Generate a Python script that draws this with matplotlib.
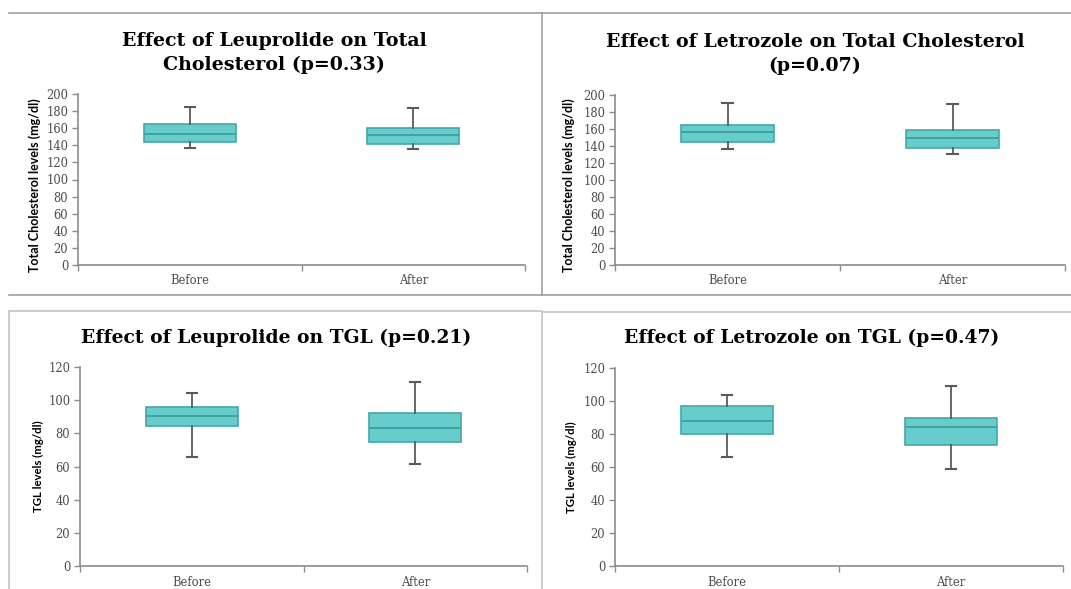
import matplotlib
matplotlib.use("Agg")
import matplotlib.pyplot as plt
from matplotlib.lines import Line2D

# ---- data ----
categories = ["Before", "After"]

titles = [
    "Effect of Leuprolide on Total\nCholesterol (p=0.33)",
    "Effect of Letrozole on Total Cholesterol\n(p=0.07)",
    "Effect of Leuprolide on TGL (p=0.21)",
    "Effect of Letrozole on TGL (p=0.47)",
]
ylabels = [
    "Total Cholesterol levels (mg/dl)",
    "Total Cholesterol levels (mg/dl)",
    "TGL levels (mg/dl)",
    "TGL levels (mg/dl)",
]

# [Before, After] for each statistic
leu_tc_min = [137, 136]
leu_tc_q1 = [144, 142]
leu_tc_med = [153, 152]
leu_tc_q3 = [165, 160]
leu_tc_max = [185, 184]

let_tc_min = [137, 131]
let_tc_q1 = [144.5, 138]
let_tc_med = [156, 150]
let_tc_q3 = [165, 159]
let_tc_max = [190.5, 190]

leu_tgl_min = [66, 61.5]
leu_tgl_q1 = [84.5, 74.5]
leu_tgl_med = [90.5, 83.5]
leu_tgl_q3 = [96, 92]
leu_tgl_max = [104.5, 111]

let_tgl_min = [66, 59]
let_tgl_q1 = [80, 73.5]
let_tgl_med = [88, 84.5]
let_tgl_q3 = [97, 89.5]
let_tgl_max = [103.5, 109]

tc_ticks = list(range(0, 201, 20))
tgl_ticks = list(range(0, 121, 20))

panels = [
    (leu_tc_min, leu_tc_q1, leu_tc_med, leu_tc_q3, leu_tc_max, tc_ticks),
    (let_tc_min, let_tc_q1, let_tc_med, let_tc_q3, let_tc_max, tc_ticks),
    (leu_tgl_min, leu_tgl_q1, leu_tgl_med, leu_tgl_q3, leu_tgl_max, tgl_ticks),
    (let_tgl_min, let_tgl_q1, let_tgl_med, let_tgl_q3, let_tgl_max, tgl_ticks),
]

# ---- layout (pixels) ----
W, H = 1071, 589
fig = plt.figure(figsize=(W / 100, H / 100), dpi=100)
fig.patch.set_facecolor("white")

def rect(x0, y0, x1, y1):
    return [x0 / W, 1 - y1 / H, (x1 - x0) / W, (y1 - y0) / H]

axes_px = [(78, 94, 525, 265), (615, 95, 1065, 265), (80, 367, 527, 566), (615, 368, 1063, 566)]
title_px = [(274, 53), (815, 54), (276, 338), (812, 338)]
title_size = [13.7, 13.7, 13.5, 13.5]
ylabel_px = [(35, 185), (569, 185), (38, 466), (571, 467)]
ylabel_size = [9, 9, 8.2, 8.2]
xlabel_y = [281, 281, 582, 582]

FILL = "#66CCCC"
EDGE = "#45A8A8"
WHISK = "#5A5A5A"
AXC = "#8C8C8C"
TXT = "#4D4D4D"

for i, (mn, q1, md, q3, mx, ticks) in enumerate(panels):
    ax = fig.add_axes(rect(*axes_px[i]))
    stats = []
    for j, c in enumerate(categories):
        stats.append(dict(label=c, whislo=mn[j], q1=q1[j], med=md[j], q3=q3[j], whishi=mx[j], fliers=[]))
    ax.bxp(stats, positions=[1, 2], widths=0.41, patch_artist=True, showfliers=False,
           boxprops=dict(facecolor=FILL, edgecolor=EDGE, linewidth=1.2),
           medianprops=dict(color="#3E9E9E", linewidth=1.3),
           whiskerprops=dict(color=WHISK, linewidth=1.3),
           capprops=dict(color=WHISK, linewidth=1.5),
           capwidths=0.045, zorder=3)
    ax.set_xlim(0.5, 2.5)
    ax.set_ylim(ticks[0], ticks[-1])
    ax.set_yticks(ticks)
    ax.set_yticklabels([str(t) for t in ticks], family="DejaVu Serif", fontsize=8.3, color=TXT)
    ax.set_xticks([0.5, 1.5, 2.5])
    ax.set_xticklabels([])
    ax.tick_params(axis="y", length=4, width=1, color=AXC, pad=3)
    ax.tick_params(axis="x", length=4, width=1, color=AXC, direction="out")
    for s in ["top", "right"]:
        ax.spines[s].set_visible(False)
    for s in ["left", "bottom"]:
        ax.spines[s].set_color(AXC)
        ax.spines[s].set_linewidth(1.2)
    ax.set_facecolor("none")
    # category labels
    x0, y0, x1, y1 = axes_px[i]
    for j, c in enumerate(categories):
        cx = x0 + (x1 - x0) * (j * 2 + 1) / 4
        fig.text(cx / W, 1 - xlabel_y[i] / H, c, ha="center", va="center",
                 family="DejaVu Serif", fontsize=8.3, color=TXT)
    tx, ty = title_px[i]
    fig.text(tx / W, 1 - ty / H, titles[i], ha="center", va="center", multialignment="center",
             family="DejaVu Serif", fontweight="bold", fontsize=title_size[i], color="black",
             linespacing=1.45)
    lx, ly = ylabel_px[i]
    fig.text(lx / W, 1 - ly / H, ylabels[i], ha="center", va="center", rotation=90,
             family="Lato", fontweight="bold", fontsize=ylabel_size[i], color="black")

# ---- panel frame lines ----
def hline(y, x0, x1, c="#A0A0A0"):
    fig.add_artist(Line2D([x0 / W, x1 / W], [1 - y / H, 1 - y / H], color=c, lw=1.2))

def vline(x, y0, y1, c="#A0A0A0"):
    fig.add_artist(Line2D([x / W, x / W], [1 - y0 / H, 1 - y1 / H], color=c, lw=1.2))

hline(13, 9, W)
hline(294.5, 9, W)
vline(542, 13, 294.5)
hline(310.5, 9, 542, "#C4C4C4")
vline(9, 310.5, H, "#C4C4C4")
hline(312, 542, W, "#C4C4C4")
vline(542, 312, H, "#C4C4C4")

fig.savefig("out.png", dpi=100, facecolor="white")
